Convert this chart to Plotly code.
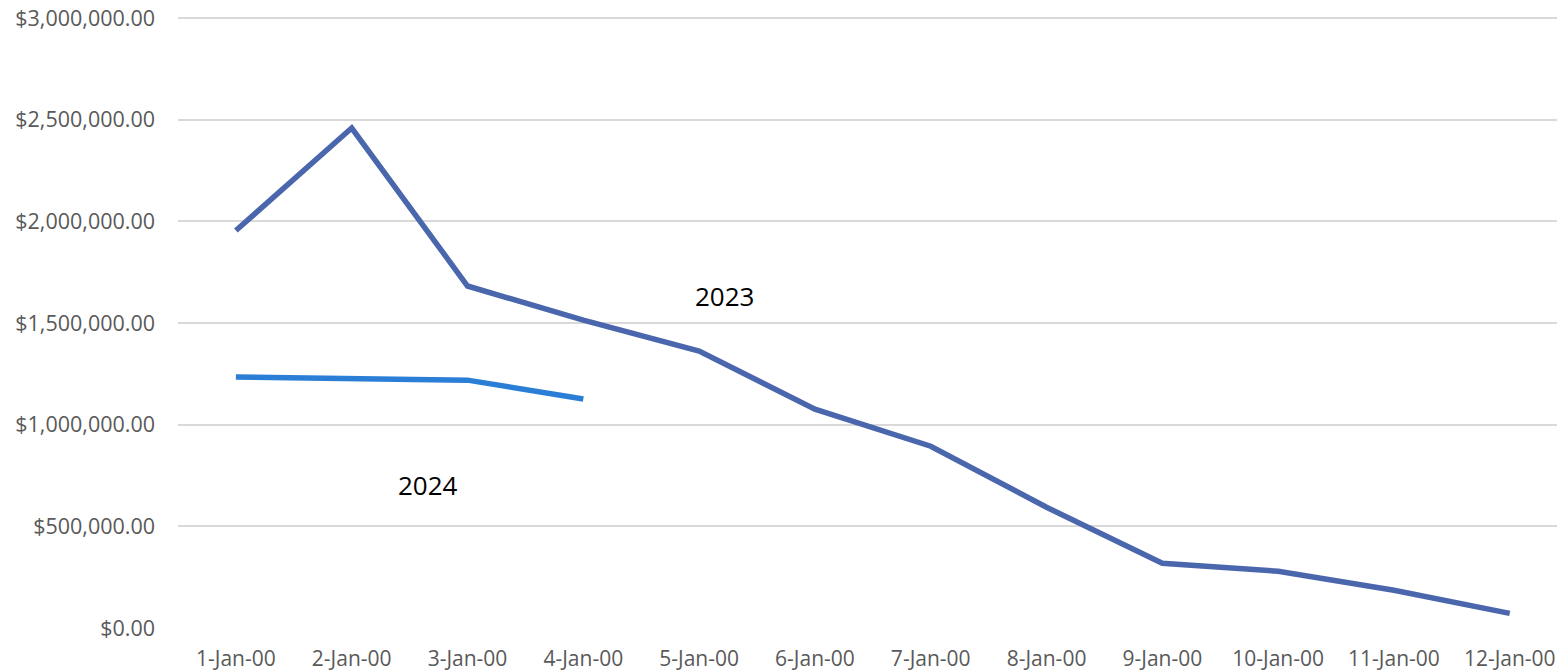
import plotly.graph_objects as go

# Category labels along the x axis
dates = ["1-Jan-00", "2-Jan-00", "3-Jan-00", "4-Jan-00", "5-Jan-00", "6-Jan-00",
         "7-Jan-00", "8-Jan-00", "9-Jan-00", "10-Jan-00", "11-Jan-00", "12-Jan-00"]

# Yearly series values
values_2023 = [1955000, 2459000, 1682000, 1514000, 1362000, 1076000,
               894000, 594000, 318000, 279000, 186000, 72000]
values_2024 = [1234000, 1229000, 1219000, 1126000]

# Y-axis ticks and their currency labels
y_ticks = [0, 500000, 1000000, 1500000, 2000000, 2500000, 3000000]
y_tick_text = ["${:,.2f}".format(v) for v in y_ticks]

# Series labels placed on the chart
label_2023 = ("2023", 4.22, 1635000)
label_2024 = ("2024", 1.66, 705000)

fig = go.Figure()
fig.add_trace(go.Scatter(x=dates, y=values_2023, mode="lines", name="2023",
                         line=dict(color="#4A66AC", width=5.5)))
fig.add_trace(go.Scatter(x=dates[:len(values_2024)], y=values_2024, mode="lines", name="2024",
                         line=dict(color="#2A7ED6", width=5.5)))

for text, xi, yv in (label_2023, label_2024):
    fig.add_annotation(x=xi, y=yv, text=text, showarrow=False,
                       font=dict(family="Open Sans", size=26, color="#000000"))

fig.update_layout(
    width=1557, height=672,
    margin=dict(l=178, r=0, t=16, b=44),
    paper_bgcolor="white", plot_bgcolor="white",
    showlegend=False,
    font=dict(family="Open Sans", color="#595959", size=21),
)
fig.update_xaxes(
    type="category", categoryorder="array", categoryarray=dates,
    range=[-0.5, 11.408], showgrid=False, zeroline=False, showline=False,
    ticks="", ticklabelstandoff=16, tickfont=dict(size=21, color="#595959"),
)
fig.update_yaxes(
    range=[0, 3010000], tickvals=y_ticks, ticktext=y_tick_text,
    showgrid=True, gridcolor="#D9D9D9", gridwidth=1.5, zeroline=False,
    showline=False, ticks="", ticklabelstandoff=22,
    tickfont=dict(size=21.5, color="#595959"),
)

fig.write_html("out.html")
